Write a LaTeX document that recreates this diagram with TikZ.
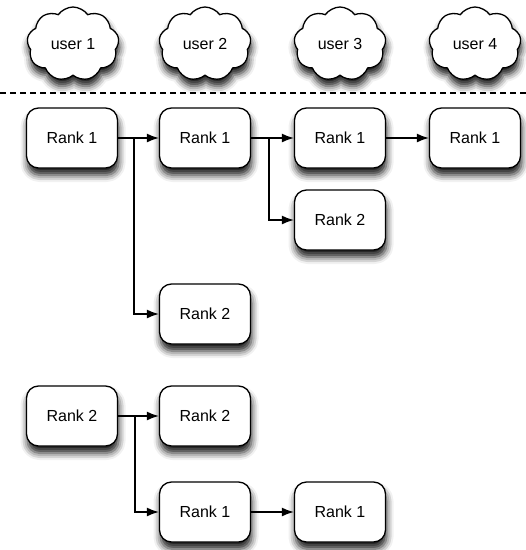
\documentclass[tikz,border=0pt]{standalone}
\usepackage{fontspec}
\setmainfont{Liberation Sans}
\usetikzlibrary{shapes.symbols,shadows.blur,arrows.meta}
\tikzset{
  rankbox/.style={draw, line width=1.3pt, rounded corners=12pt, fill=white,
    minimum width=91pt, minimum height=60pt,
    blur shadow={shadow xshift=1pt, shadow yshift=-7pt, shadow blur radius=7pt, shadow opacity=90}},
  usercloud/.style={cloud, draw, line width=1.3pt, cloud puffs=9, cloud puff arc=110, cloud ignores aspect,
    fill=white, minimum width=92pt, minimum height=74pt,
    blur shadow={shadow xshift=1pt, shadow yshift=-7pt, shadow blur radius=7pt, shadow opacity=90}},
  link/.style={line width=1.2pt, -{Latex[length=12pt,width=9pt]}}
}
\begin{document}
\begin{tikzpicture}[x=1pt, y=-1pt, font=\fontsize{16}{19}\selectfont]
\useasboundingbox (0,0) rectangle (526,550);
% users
\node[usercloud] (u1) at (73,44){user 1};
\node[usercloud] (u2) at (205,44){user 2};
\node[usercloud] (u3) at (340,44){user 3};
\node[usercloud] (u4) at (475,44){user 4};
\draw[line width=1.2pt, dash pattern=on 6pt off 4pt] (0,93) -- (526,93);
% first tree
\node[rankbox] (ra1) at (72,138){Rank 1};
\node[rankbox] (rb1) at (205,138){Rank 1};
\node[rankbox] (rc1) at (340,138){Rank 1};
\node[rankbox] (rd1) at (475,138){Rank 1};
\node[rankbox] (rc2) at (340,220){Rank 2};
\node[rankbox] (rb2) at (205,314){Rank 2};
\coordinate (bra) at (134,138);
\coordinate (brb) at (269,138);
\draw[line width=1.2pt](ra1) -- (bra);
\draw[link](bra) -- (rb1);
\draw[link](bra) |- (rb2);
\draw[line width=1.2pt](rb1) -- (brb);
\draw[link](brb) -- (rc1);
\draw[link](brb) |- (rc2);
\draw[link](rc1) -- (rd1);
% second tree
\node[rankbox] (sa2) at (72,416){Rank 2};
\node[rankbox] (sb2) at (205,416){Rank 2};
\node[rankbox] (sb1) at (205,512){Rank 1};
\node[rankbox] (sc1) at (340,512){Rank 1};
\coordinate (brs) at (135,416);
\draw[line width=1.2pt](sa2) -- (brs);
\draw[link](brs) -- (sb2);
\draw[link](brs) |- (sb1);
\draw[link](sb1) -- (sc1);
\end{tikzpicture}
\end{document}
